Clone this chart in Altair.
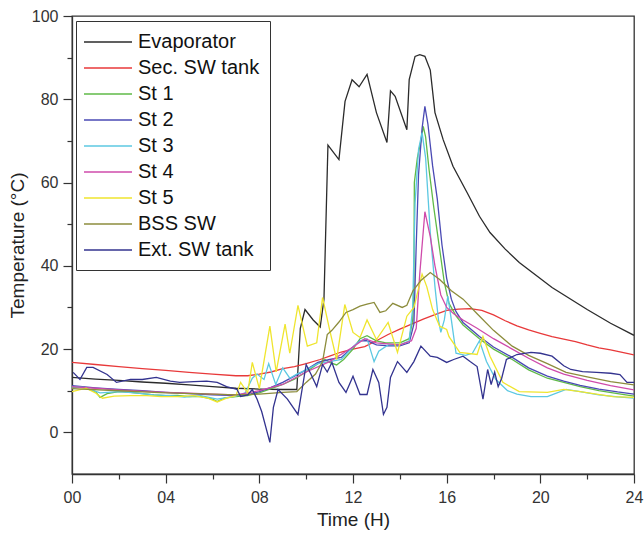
import altair as alt
import pandas as pd

series_names = ["Evaporator", "Sec. SW tank", "St 1", "St 2", "St 3", "St 4", "St 5", "BSS SW", "Ext. SW tank"]
series_colors = ["#2b2b2b", "#e8393a", "#5fba47", "#4a4ab4", "#5cc8e2", "#cf4bab", "#efe52e", "#8c8c3c", "#33338f"]

evap_t = [0, 1, 2, 3, 4, 5, 6, 7, 8, 9, 9.6, 9.75, 9.95, 10.3, 10.6, 10.76, 10.93, 11.4, 11.66, 11.96,
          12.26, 12.6, 13.0, 13.45, 13.6, 13.8, 14.3, 14.4, 14.65, 14.85, 15.07, 15.3, 15.5, 15.85, 16.27,
          16.87, 17.4, 17.85, 18.5, 19.1, 20.5, 22, 23, 24]
evap_v = [13.2, 12.8, 12.5, 12.1, 11.8, 11.4, 11.0, 10.6, 10.4, 10.3, 10.3, 25, 29.5, 27, 25.3, 32, 69, 65.5, 79.5, 84.7,
          83, 86, 76.8, 69.6, 82, 80.7, 72.7, 84.7, 90.3, 90.7, 90.3, 87, 76.8, 70.3, 63.9,
          57.6, 51.9, 48, 44, 40.8, 34.8, 29.5, 26.2, 23.3]

sec_t = [0, 1, 2, 3, 4, 5, 6, 7, 7.5, 8, 8.5, 9, 9.5, 10, 10.6, 11, 11.5, 12, 12.5, 13, 13.5, 14, 14.5, 15,
         15.5, 16, 16.5, 17, 17.5, 18, 18.5, 19, 19.5, 20, 20.5, 21, 21.5, 22, 22.5, 23, 23.5, 24]
sec_v = [16.8, 16.3, 15.8, 15.3, 14.9, 14.4, 14.0, 13.6, 13.6, 14.0, 14.5, 15.3, 15.8, 16.5, 17.5, 18.3, 19.3, 20.0,
         20.6, 22.0, 23.5, 24.8, 26.0, 27.2, 28.3, 29.3, 29.6, 29.7, 29.3, 28.2, 26.8, 25.6, 24.6, 23.8, 23.0,
         22.4, 21.8, 21.0, 20.3, 19.8, 19.2, 18.6]

st1_t = [0, 0.5, 1.0, 1.2, 1.5, 2, 2.5, 3, 3.5, 4, 4.5, 5, 5.5, 6, 6.2, 6.5, 7, 7.5, 8, 8.5, 9, 9.5, 10, 10.5,
         10.8, 11, 11.3, 11.6, 12, 12.3, 12.6, 13.0, 13.4, 14, 14.4, 14.55, 14.6, 14.62, 14.75, 14.9, 15.0,
         15.1, 15.25, 15.45, 15.7, 15.9, 16.1, 16.4, 16.7, 17.4, 18, 18.8, 19.5, 20.3, 21, 21.7, 22.5, 23.3, 24]
st1_v = [10.8, 10.8, 9.8, 8.4, 9.3, 9.8, 9.6, 9.3, 9.0, 8.8, 8.9, 8.6, 8.6, 8.0, 7.4, 8.2, 8.6, 8.8, 9.5, 10.5,
         11.5, 12.8, 14.5, 16.5, 17.5, 16.8, 16.2, 17.5, 20.0, 22.5, 23.2, 22.0, 21.5, 21.5, 22.5, 27, 35, 60,
         66, 70, 73.5, 71, 63, 54, 44, 36, 31, 28, 25.8, 22.5, 20.0, 17.5, 15.0, 13.0, 12.0, 11.0, 10.0, 9.3, 8.7]

st2_t = [0, 1, 2, 3, 4, 5, 6, 7, 7.5, 8, 8.5, 9, 9.5, 10, 10.5, 11, 11.5, 12, 12.3, 12.6, 13, 13.5, 14, 14.4,
         14.6, 14.7, 14.8, 14.95, 15.07, 15.2, 15.4, 15.6, 15.8, 16.0, 16.2, 16.4, 16.7, 17.4, 18, 18.8, 19.5,
         20.3, 21, 21.7, 22.5, 23.3, 24]
st2_v = [11.2, 10.7, 10.3, 10.0, 9.6, 9.3, 9.0, 8.8, 9.0, 9.8, 10.8, 12.0, 13.5, 15.0, 16.8, 17.5, 18.0, 20.5, 22.0,
         22.0, 21.0, 20.8, 20.8, 21.5, 26, 45, 62, 73, 78.3, 74, 64, 56, 45, 37, 32, 29, 26.4, 23.0, 20.5, 18.0,
         15.5, 13.5, 12.3, 11.3, 10.4, 9.7, 9.2]

st3_t = [0, 0.5, 1.2, 2, 2.8, 3.5, 4.2, 4.8, 5.5, 6.2, 7, 7.4, 7.7, 7.9, 8.2, 8.4, 8.7, 9, 9.3, 9.6, 10, 10.5,
         11, 11.5, 12, 12.3, 12.6, 12.9, 13.1, 13.5, 14, 14.4, 14.55, 14.65, 14.8, 14.95, 15.1, 15.3, 15.5,
         15.65, 15.75, 15.9, 16.05, 16.2, 16.4, 16.8, 17.1, 17.4, 17.7, 18.1, 18.6, 19.0, 19.6, 20.3, 21.1,
         21.7, 22.5, 23.3, 24]
st3_v = [11.0, 10.8, 9.5, 9.8, 9.4, 9.0, 8.8, 8.5, 8.8, 8.0, 8.7, 9.5, 13.0, 14.0, 12.7, 16.5, 11.5, 15.5, 13.0,
         14.0, 15.0, 16.5, 17.0, 17.5, 20.5, 22.0, 22.5, 17.0, 19.5, 21.0, 21.0, 22.0, 30, 55, 68, 72, 66, 48, 35,
         27, 24, 27, 32.7, 27, 19.0, 18.5, 19.0, 22.0, 17.0, 12.7, 10.0, 9.2, 8.6, 8.6, 10.3, 9.8, 9.0, 8.5, 8.2]

st4_t = [0, 1, 2, 3, 4, 5, 6, 7, 8, 9, 10, 11, 12, 12.5, 13, 14, 14.5, 14.7, 14.85, 15.07, 15.3, 15.5, 15.75,
         16.0, 16.3, 16.7, 17.3, 18, 18.8, 19.5, 20.3, 21, 22, 23, 24]
st4_v = [11.0, 10.6, 10.2, 9.9, 9.6, 9.4, 9.2, 9.0, 10.0, 11.5, 14.5, 17.0, 20.5, 22.5, 21.5, 21.0, 22.0, 25, 38,
         53, 47, 40, 33, 30, 28.5, 27.0, 25.0, 22.5, 20.0, 17.8, 15.5, 14.0, 12.5, 11.2, 10.2]

st5_t = [0, 0.3, 0.6, 1.0, 1.3, 1.8, 2.5, 3.2, 3.8, 4.5, 5.2, 5.8, 6.2, 6.6, 7.0, 7.2, 7.5, 7.7, 8.0, 8.45,
         8.72, 9.1, 9.3, 9.65, 10.05, 10.45, 10.7, 11.0, 11.3, 11.65, 12.0, 12.3, 12.6, 13.0, 13.5, 13.9, 14.3,
         14.6, 14.95, 15.15, 15.4, 15.7, 16.0, 16.1, 16.56, 17.3, 17.55, 17.85, 18.4, 19.1, 20.3, 21.0, 21.7,
         23.1, 24]
st5_v = [9.8, 10.2, 10.6, 9.5, 8.2, 8.7, 8.8, 8.8, 8.6, 8.6, 8.8, 8.2, 7.3, 8.2, 8.8, 12.0, 9.5, 16.8, 10.5, 25.5,
         14.5, 26.0, 19.0, 30.5, 20.7, 21.5, 32.4, 24.7, 17.5, 30.7, 24.0, 22.8, 27.0, 22.3, 26.4, 19.2, 27.9,
         30.0, 38.0, 35.0, 29.5, 25.5, 24.7, 23.0, 19.2, 18.7, 23.0, 18.3, 12.0, 9.8, 9.6, 10.3, 9.8, 8.6, 8.4]

bss_t = [0, 2, 4, 6, 7, 8, 9, 9.6, 10.0, 10.4, 10.7, 10.9, 11.1, 11.4, 11.7, 12.0, 12.3, 12.6, 12.9, 13.15,
         13.4, 13.7, 14.1, 14.3, 14.56, 14.9, 15.3, 15.7, 16.2, 16.7, 17.3, 18, 18.8, 19.5, 20.3, 21.1, 22, 23, 24]
bss_v = [10.5, 10.0, 9.5, 9.2, 9.0, 9.2, 9.6, 9.8, 12.0, 14.0, 17.0, 23.5, 24.5, 26.5, 28.8, 29.5, 30.3, 30.8,
         31.2, 28.8, 29.2, 31.0, 30.0, 30.5, 34.0, 36.5, 38.4, 36.7, 34.0, 32.0, 28.5, 24.5, 20.7, 18.5, 16.5,
         14.4, 13.3, 12.2, 11.4]

ext_t = [0.05, 0.34, 0.63, 0.9, 1.5, 1.9, 2.5, 3.0, 3.6, 4.2, 4.6, 5.2, 5.75, 6.2, 6.6, 7.05, 7.2, 7.5, 7.7, 7.9,
         8.1, 8.45, 8.6, 8.8, 9.2, 9.65, 10.0, 10.2, 10.45, 10.7, 10.9, 11.1, 11.4, 11.7, 12.0, 12.3, 12.6,
         12.85, 13.1, 13.3, 13.45, 13.6, 13.9, 14.3, 14.6, 14.9, 15.3, 15.6, 16.0, 16.3, 16.7, 17.0, 17.3,
         17.55, 17.75, 17.9, 18.05, 18.2, 18.35, 18.55, 19.0, 19.6, 20.0, 20.5, 21.0, 21.3, 21.8, 22.4, 23.0,
         23.4, 23.7, 24]
ext_v = [14.4, 12.7, 15.6, 15.6, 13.9, 12.0, 12.7, 12.7, 13.2, 12.3, 12.0, 12.2, 12.3, 12.0, 11.0, 10.3, 8.6, 9.0,
         10.3, 8.0, 5.0, -2.4, 6.0, 10.3, 8.0, 4.3, 16.3, 14.0, 11.0, 16.3, 14.5, 16.8, 12.0, 9.6, 13.5, 9.1, 9.1,
         15.1, 12.0, 4.3, 6.0, 13.2, 17.0, 14.4, 17.0, 20.7, 18.3, 18.0, 16.8, 17.5, 18.3, 17.0, 15.8,
         8.0, 15.1, 11.5, 14.5, 11.0, 13.0, 17.5, 18.7, 19.2, 19.0, 18.3, 16.0, 15.1, 14.6, 14.4, 14.2,
         13.9, 12.0, 12.0]

series_data = [(evap_t, evap_v), (sec_t, sec_v), (st1_t, st1_v), (st2_t, st2_v), (st3_t, st3_v),
               (st4_t, st4_v), (st5_t, st5_v), (bss_t, bss_v), (ext_t, ext_v)]

rows = []
for name, (ts, vs) in zip(series_names, series_data):
    for i, (t, v) in enumerate(zip(ts, vs)):
        rows.append({"series": name, "t": t, "v": v, "i": i})
df = pd.DataFrame(rows)

FONT = "Liberation Sans"

x_label = "datum.value % 4 === 0 ? (datum.value < 10 ? '0' + datum.value : '' + datum.value) : ''"
y_label = "datum.value % 20 === 0 ? '' + datum.value : ''"

chart = alt.Chart(df).mark_line(strokeWidth=1.3, clip=True).encode(
    x=alt.X("t:Q", title="Time (H)",
            scale=alt.Scale(domain=[0, 24], nice=False, zero=False),
            axis=alt.Axis(values=list(range(0, 25, 2)), labelExpr=x_label,
                          tickSize={"condition": {"test": "datum.value % 4 === 0", "value": 9}, "value": 5},
                          labelFlush=False, labelOverlap=False, labelPadding=6,
                          titlePadding=5)),
    y=alt.Y("v:Q", title="Temperature (°C)",
            scale=alt.Scale(domain=[-10, 100], nice=False, zero=False),
            axis=alt.Axis(values=list(range(0, 101, 10)), labelExpr=y_label,
                          tickSize={"condition": {"test": "datum.value % 20 === 0", "value": 9}, "value": 5},
                          labelOverlap=False, labelPadding=5, titlePadding=4)),
    color=alt.Color("series:N", sort=series_names,
                    scale=alt.Scale(domain=series_names, range=series_colors),
                    legend=alt.Legend(title=None, orient="none", legendX=4, legendY=5,
                                      symbolType="M-1.3,0H3.5", symbolSize=400, symbolStrokeWidth=1.5,
                                      labelFontSize=20, labelFont=FONT, labelColor="#111",
                                      labelOffset=30, rowPadding=5, padding=10,
                                      strokeColor="#333", fillColor="white")),
    order=alt.Order("i:Q"),
    detail="series:N",
).properties(
    width=562, height=458,
    autosize=alt.AutoSizeParams(type="none"),
    padding={"left": 72, "top": 16, "right": 10, "bottom": 62},
    background="white",
).configure_view(
    stroke="#333", strokeWidth=1.3
).configure_axis(
    grid=False, domainColor="#333", domainWidth=1.3, tickColor="#333", tickWidth=1.2,
    labelFont=FONT, labelFontSize=16, labelColor="#333",
    titleFont=FONT, titleFontSize=19, titleFontWeight="normal", titleColor="#222",
)

chart.save("out.html", embed_options={"renderer": "svg", "actions": False})
